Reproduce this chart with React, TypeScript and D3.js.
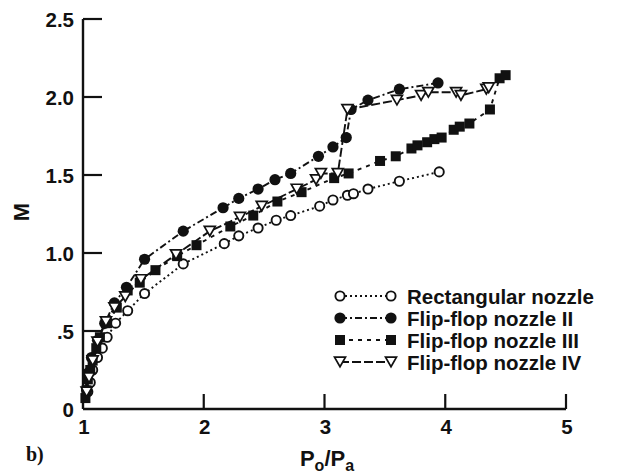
import React from "react";
import * as d3 from "d3";

const W = 627;
const H = 475;

const xTicks = [1, 2, 3, 4, 5];
const yTicks = [0, 0.5, 1.0, 1.5, 2.0, 2.5];
const yTickLabels = ["0", ".5", "1.0", "1.5", "2.0", "2.5"];

const seriesNames = ["Rectangular nozzle", "Flip-flop nozzle II", "Flip-flop nozzle III", "Flip-flop nozzle IV"];

const rectX = [1.04, 1.06, 1.08, 1.12, 1.16, 1.20, 1.27, 1.37, 1.51, 1.83, 2.17, 2.29, 2.45, 2.60, 2.72, 2.96, 3.07, 3.19, 3.24, 3.36, 3.62, 3.95];
const rectY = [0.11, 0.17, 0.25, 0.33, 0.39, 0.46, 0.55, 0.63, 0.74, 0.93, 1.06, 1.11, 1.16, 1.21, 1.24, 1.30, 1.34, 1.37, 1.38, 1.41, 1.46, 1.52];

const ff2X = [1.03, 1.04, 1.07, 1.12, 1.18, 1.26, 1.36, 1.51, 1.83, 2.16, 2.29, 2.45, 2.59, 2.72, 2.95, 3.07, 3.18, 3.22, 3.36, 3.62, 3.94];
const ff2Y = [0.12, 0.23, 0.33, 0.44, 0.55, 0.68, 0.78, 0.96, 1.14, 1.29, 1.35, 1.41, 1.47, 1.51, 1.62, 1.68, 1.74, 1.92, 1.98, 2.05, 2.09];

const ff3X = [1.02, 1.03, 1.04, 1.06, 1.08, 1.11, 1.14, 1.20, 1.28, 1.37, 1.47, 1.60, 1.78, 1.94, 2.22, 2.41, 2.61, 2.81, 3.08, 3.20, 3.46, 3.59, 3.72, 3.77, 3.85, 3.91, 3.97, 4.07, 4.12, 4.20, 4.37, 4.45, 4.50];
const ff3Y = [0.07, 0.12, 0.19, 0.25, 0.31, 0.39, 0.46, 0.55, 0.65, 0.76, 0.81, 0.89, 0.98, 1.05, 1.17, 1.24, 1.33, 1.39, 1.48, 1.51, 1.59, 1.62, 1.67, 1.69, 1.71, 1.73, 1.74, 1.79, 1.81, 1.83, 1.92, 2.12, 2.14];

const ff4X = [1.03, 1.05, 1.08, 1.12, 1.19, 1.26, 1.35, 1.48, 1.77, 2.05, 2.30, 2.48, 2.77, 2.93, 2.97, 3.11, 3.19, 3.60, 3.80, 3.86, 4.09, 4.13, 4.34, 4.36];
const ff4Y = [0.11, 0.20, 0.31, 0.43, 0.56, 0.65, 0.72, 0.83, 0.99, 1.14, 1.23, 1.30, 1.41, 1.47, 1.51, 1.51, 1.92, 1.98, 2.01, 2.03, 2.03, 2.01, 2.05, 2.06];

const x = d3.scaleLinear().domain([1, 5]).range([83, 566]);
const y = d3.scaleLinear().domain([0, 2.5]).range([409, 19]);

const INK = "#111";
const FONT = "'Liberation Sans', Arial, Helvetica, sans-serif";

type Kind = "openCircle" | "filledCircle" | "square" | "triDown";

const dashes = ["2,3", "7,3,2,3", "4,5", "9,3"];
const kinds: Kind[] = ["openCircle", "filledCircle", "square", "triDown"];

function Marker({ kind, cx, cy }: { kind: Kind; cx: number; cy: number }) {
  if (kind === "openCircle") {
    return <circle cx={cx} cy={cy} r={4.6} fill="#fff" stroke={INK} strokeWidth={1.9} />;
  }
  if (kind === "filledCircle") {
    return <circle cx={cx} cy={cy} r={5.6} fill={INK} />;
  }
  if (kind === "square") {
    const s = 10;
    return <rect x={cx - s / 2} y={cy - s / 2} width={s} height={s} fill={INK} />;
  }
  const s = 11;
  const h = s * 0.87;
  const pts = [
    [cx - s / 2, cy - h / 2],
    [cx + s / 2, cy - h / 2],
    [cx, cy + h / 2],
  ];
  return <polygon points={pts.map((p) => p.join(",")).join(" ")} fill="#fff" stroke={INK} strokeWidth={1.7} />;
}

function Series({ xs, ys, idx }: { xs: number[]; ys: number[]; idx: number }) {
  const pts: [number, number][] = xs.map((v, i) => [v, ys[i]]);
  const line = d3
    .line<[number, number]>()
    .x((d) => x(d[0]))
    .y((d) => y(d[1]));
  return (
    <g>
      <path d={line(pts) || ""} fill="none" stroke={INK} strokeWidth={1.9} strokeDasharray={dashes[idx]} />
      {pts.map((p, i) => (
        <Marker key={i} kind={kinds[idx]} cx={x(p[0])} cy={y(p[1])} />
      ))}
    </g>
  );
}

export default function App() {
  const allX = [rectX, ff2X, ff3X, ff4X];
  const allY = [rectY, ff2Y, ff3Y, ff4Y];
  const legendY = [296, 318, 340, 362];
  return (
    <svg
      width={W}
      height={H}
      viewBox={`0 0 ${W} ${H}`}
      style={{ position: "absolute", left: 0, top: 0, background: "#fff" }}
    >
      <rect width={W} height={H} fill="#fff" />
      {/* axes */}
      <line x1={x(1)} y1={y(2.5)} x2={x(1)} y2={y(0)} stroke={INK} strokeWidth={2.4} />
      <line x1={x(1)} y1={y(0)} x2={x(5)} y2={y(0)} stroke={INK} strokeWidth={2.4} />
      {yTicks.map((t, i) => (
        <g key={"yt" + i}>
          {t > 0 && <line x1={x(1)} x2={x(1) + 19} y1={y(t)} y2={y(t)} stroke={INK} strokeWidth={2.2} />}
          <text
            x={74}
            y={y(t)}
            textAnchor="end"
            dominantBaseline="central"
            fontFamily={FONT}
            fontWeight="bold"
            fontSize={20.5}
            fill={INK}
          >
            {yTickLabels[i]}
          </text>
        </g>
      ))}
      {xTicks.map((t, i) => (
        <g key={"xt" + i}>
          {t > 1 && <line x1={x(t)} x2={x(t)} y1={y(0)} y2={y(0) - 15} stroke={INK} strokeWidth={2.2} />}
          <text
            x={x(t) + 1}
            y={426}
            textAnchor="middle"
            dominantBaseline="central"
            fontFamily={FONT}
            fontWeight="bold"
            fontSize={20.5}
            fill={INK}
          >
            {t}
          </text>
        </g>
      ))}
      {/* axis titles */}
      <text
        transform={`translate(21,212) rotate(-90)`}
        textAnchor="middle"
        dominantBaseline="central"
        fontFamily={FONT}
        fontWeight="bold"
        fontSize={22}
        fill={INK}
      >
        M
      </text>
      <text x={327} y={466} textAnchor="middle" fontFamily={FONT} fontWeight="bold" fontSize={22} fill={INK}>
        P
        <tspan fontSize={16} dy={5}>o</tspan>
        <tspan dy={-5}>/P</tspan>
        <tspan fontSize={16} dy={5}>a</tspan>
      </text>
      <text x={26} y={461} fontFamily="'Liberation Serif', 'Times New Roman', serif" fontWeight="bold" fontSize={20} fill={INK}>
        b)
      </text>
      {/* data */}
      {allX.map((xs, i) => (
        <Series key={i} xs={xs} ys={allY[i]} idx={i} />
      ))}
      {/* legend */}
      {seriesNames.map((name, i) => (
        <g key={"lg" + i}>
          <line x1={340} x2={391} y1={legendY[i]} y2={legendY[i]} stroke={INK} strokeWidth={1.9} strokeDasharray={dashes[i]} />
          <Marker kind={kinds[i]} cx={340} cy={legendY[i]} />
          <Marker kind={kinds[i]} cx={391} cy={legendY[i]} />
          <text
            x={407}
            y={legendY[i]}
            dominantBaseline="central"
            fontFamily={FONT}
            fontWeight="bold"
            fontSize={20.5}
            fill={INK}
          >
            {name}
          </text>
        </g>
      ))}
    </svg>
  );
}
